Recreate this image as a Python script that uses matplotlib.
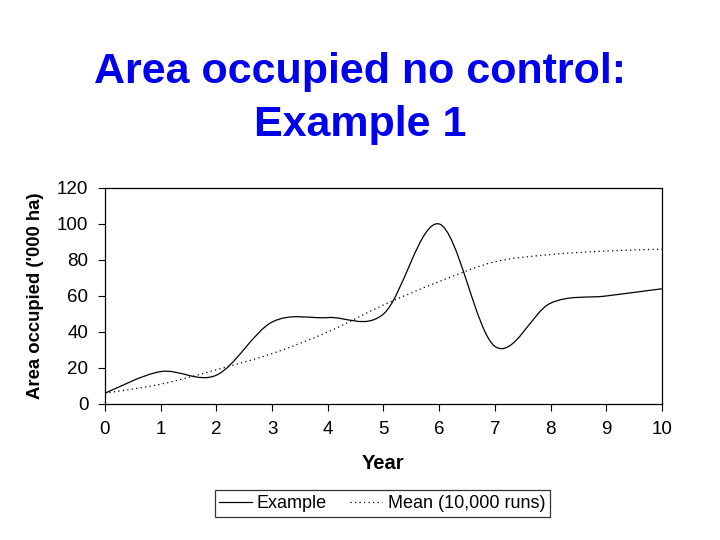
"""Area occupied with no control, example run versus mean of 10,000 runs."""
import matplotlib
matplotlib.use("Agg")
import matplotlib.pyplot as plt
import numpy as np
from matplotlib.lines import Line2D
from matplotlib.patches import PathPatch
from matplotlib.path import Path

plt.rcParams["font.family"] = ["Liberation Sans", "DejaVu Sans"]

years = [0, 1, 2, 3, 4, 5, 6, 7, 8, 9, 10]
example = [6, 18, 16, 45.5, 48, 50, 100, 32, 56, 60, 64]
mean_runs = [6, 11, 19, 28, 40, 55, 68, 79, 83, 85, 86]

x_ticks = list(range(0, 11))
y_ticks = [0, 20, 40, 60, 80, 100, 120]


def smooth_path(xs, ys):
    # Excel-style smoothed line: cubic Bezier segments with Catmull-Rom tangents
    pts = np.column_stack([xs, ys]).astype(float)
    padded = np.vstack([pts[0], pts, pts[-1]])
    verts = [pts[0]]
    codes = [Path.MOVETO]
    for i in range(len(pts) - 1):
        p0, p1, p2, p3 = padded[i], padded[i + 1], padded[i + 2], padded[i + 3]
        c1 = p1 + (p2 - p0) / 6.0
        c2 = p2 - (p3 - p1) / 6.0
        verts += [c1, c2, p2]
        codes += [Path.CURVE4] * 3
    return Path(verts, codes)


fig = plt.figure(figsize=(7.2, 5.4), dpi=100)
ax = fig.add_axes([0.1458, 0.2519, 0.7736, 0.4])

solid_style = dict(color="black", linewidth=0.9, linestyle="-")
dot_style = dict(color="black", linewidth=0.9, linestyle=(0, (1, 2.6)))

ax.add_patch(PathPatch(smooth_path(years, mean_runs), fill=False, **dot_style))
ax.add_patch(PathPatch(smooth_path(years, example), fill=False, **solid_style))

ax.set_xlim(0, 10)
ax.set_ylim(0, 120)
ax.set_xticks(x_ticks)
ax.set_yticks(y_ticks)
ax.tick_params(direction="out", length=5, width=0.8, labelsize=13.5, pad=7)
for sp in ax.spines.values():
    sp.set_linewidth(0.9)

ax.set_xlabel("Year", fontsize=14.5, fontweight="bold", labelpad=12)
ax.set_ylabel("Area occupied ('000 ha)", fontsize=13.3, fontweight="bold", labelpad=9)

fig.text(0.5, 0.818, "Area occupied no control:\nExample 1", ha="center", va="center",
         fontsize=31, fontweight="bold", color="#0000EE", linespacing=1.42)

handles = [Line2D([], [], **solid_style), Line2D([], [], **dot_style)]
leg = fig.legend(handles, ["Example", "Mean (10,000 runs)"], loc="center",
                 bbox_to_anchor=(0.5306, 0.0676), ncol=2, fontsize=13,
                 frameon=True, fancybox=False, handlelength=1.8, columnspacing=1.25,
                 handletextpad=0.3, borderpad=0.25, borderaxespad=0)
leg.get_frame().set_edgecolor("black")
leg.get_frame().set_linewidth(0.9)

fig.savefig("out.png", dpi=100)
